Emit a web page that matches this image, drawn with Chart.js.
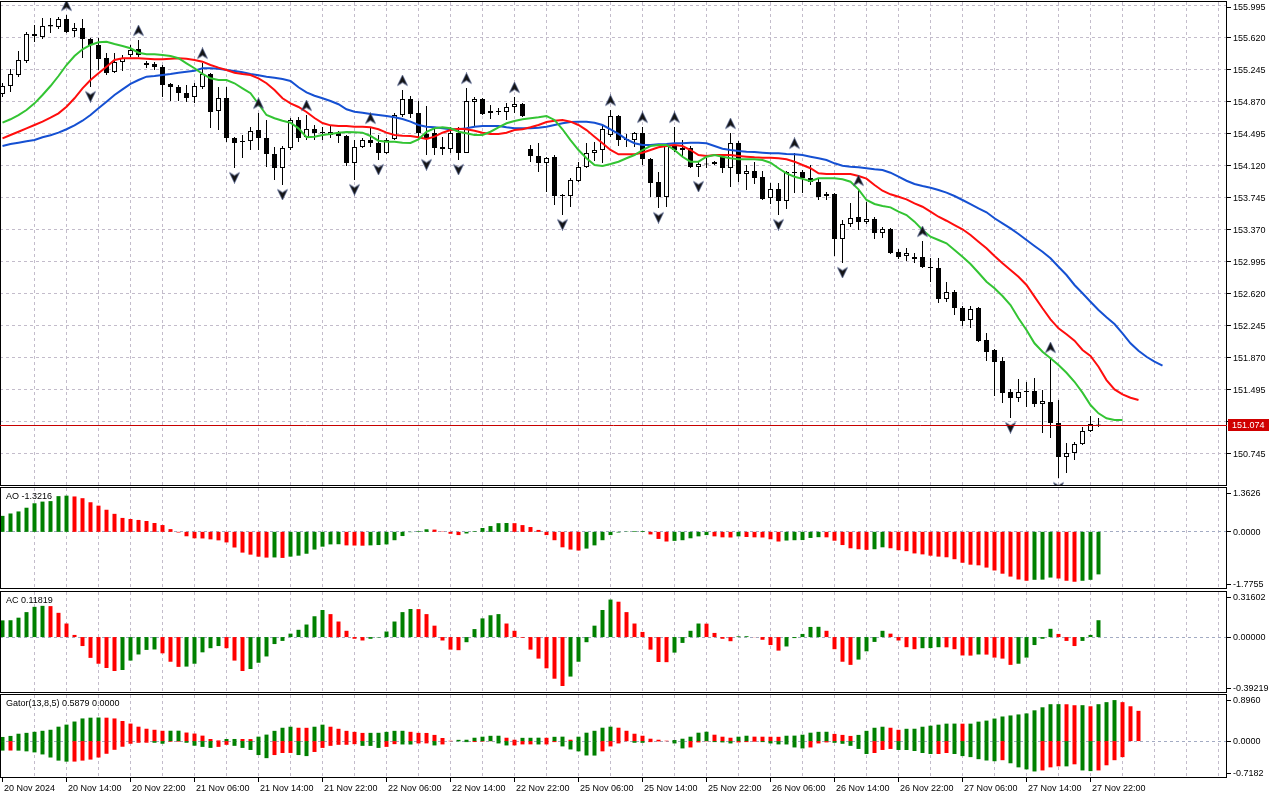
<!DOCTYPE html>
<html>
<head>
<meta charset="utf-8">
<title>USDJPY H1 - Alligator, AO, AC, Gator</title>
<script src="https://cdn.jsdelivr.net/npm/chart.js@4.4.1/dist/chart.umd.min.js"></script>
<style>
  html, body { margin: 0; padding: 0; background: #fff; overflow: hidden; }
  #wrap { position: relative; width: 1280px; height: 800px; }
  #wrap canvas { position: absolute; left: 0; }
</style>
</head>
<body>
<div id="wrap">
  <canvas id="priceChart" width="1280" height="487" style="top:0px"></canvas>
  <canvas id="aoChart" width="1280" height="103" style="top:487px"></canvas>
  <canvas id="acChart" width="1280" height="103" style="top:591px"></canvas>
  <canvas id="gatorChart" width="1280" height="106" style="top:694px"></canvas>
</div>
<script>
// price axis labels (right side of the main window)
const priceTicks = [155.995, 155.620, 155.245, 154.870, 154.495, 154.120, 153.745, 153.370,
  152.995, 152.620, 152.245, 151.870, 151.495, 151.120, 150.745];

// H1 candles, bar 0 = 20 Nov 06:00
const opens = [
  154.960,155.054,155.183,155.347,155.664,155.628,155.769,155.746,155.839,155.699,
  155.734,155.605,155.535,155.382,155.218,155.335,155.417,155.488,155.300,155.312,
  155.277,155.078,155.042,154.972,154.925,155.042,155.195,154.761,154.913,154.445,
  154.409,154.409,154.538,154.445,154.257,154.093,154.327,154.656,154.456,154.550,
  154.509,154.480,154.503,154.468,154.152,154.339,154.421,154.386,154.269,154.433,
  154.714,154.902,154.738,154.492,154.503,154.339,154.316,154.503,154.269,154.867,
  154.902,154.738,154.761,154.749,154.808,154.843,154.316,154.234,154.152,154.222,
  153.777,153.765,153.941,154.105,154.269,154.304,154.480,154.702,154.433,154.421,
  154.503,154.199,153.929,153.753,154.363,154.304,154.327,154.105,154.140,154.140,
  154.222,154.093,154.386,154.023,154.058,153.988,153.741,153.847,153.706,154.046,
  154.046,153.976,153.929,153.788,153.788,153.261,153.437,153.519,153.460,153.495,
  153.331,153.378,153.109,153.062,153.027,153.050,152.933,152.921,152.558,152.640,
  152.452,152.312,152.452,152.077,151.960,151.831,151.468,151.398,151.480,151.480,
  151.327,151.351,151.104,150.706,150.753,150.858,151.011,151.087];
const highs = [
  155.089,155.253,155.464,155.687,155.769,155.851,155.851,155.863,155.886,155.792,
  155.839,155.617,155.617,155.441,155.441,155.417,155.535,155.593,155.347,155.335,
  155.300,155.089,155.066,155.066,155.089,155.324,155.206,155.042,155.042,154.456,
  154.480,154.574,154.738,154.656,154.339,154.351,154.679,154.691,154.714,154.597,
  154.574,154.585,154.527,154.480,154.421,154.445,154.562,154.480,154.445,154.738,
  155.007,154.937,154.878,154.820,154.562,154.456,154.574,154.574,155.031,154.925,
  154.913,154.831,154.796,154.855,154.925,154.855,154.363,154.386,154.222,154.245,
  153.788,153.976,154.163,154.386,154.398,154.597,154.773,154.714,154.492,154.515,
  154.574,154.210,154.046,154.363,154.574,154.421,154.351,154.163,154.210,154.175,
  154.245,154.503,154.409,154.128,154.163,154.058,153.917,153.917,154.058,154.269,
  154.070,154.128,153.976,153.812,153.800,153.484,153.683,153.835,153.695,153.519,
  153.402,153.390,153.144,153.155,153.097,153.237,153.038,153.038,152.757,152.663,
  152.476,152.476,152.464,152.159,151.972,151.878,151.503,151.620,151.585,151.632,
  151.491,151.878,151.374,150.870,150.882,151.058,151.186,151.163];
const lows = [
  154.925,154.984,155.160,155.324,155.570,155.605,155.675,155.722,155.675,155.628,
  155.382,155.042,155.242,155.183,155.206,155.230,155.394,155.394,155.265,155.242,
  154.925,154.878,154.878,154.867,154.855,155.019,154.562,154.538,154.398,154.093,
  154.210,154.304,154.304,154.105,153.952,153.894,154.304,154.398,154.421,154.421,
  154.421,154.445,154.386,154.117,153.952,154.327,154.339,154.187,154.257,154.421,
  154.691,154.679,154.421,154.245,154.245,154.245,154.269,154.187,154.269,154.585,
  154.714,154.667,154.714,154.656,154.738,154.691,154.163,154.046,153.812,153.659,
  153.542,153.636,153.929,154.093,154.175,154.152,154.456,154.351,154.339,154.339,
  154.128,153.753,153.624,153.636,154.281,154.222,154.093,153.988,154.093,154.128,
  154.034,153.870,153.929,153.835,153.906,153.718,153.671,153.542,153.613,153.800,
  153.800,153.894,153.718,153.718,153.062,152.980,153.402,153.366,153.437,153.261,
  153.273,153.085,153.027,153.003,152.980,152.921,152.757,152.511,152.523,152.370,
  152.241,152.218,152.054,151.831,151.421,151.339,151.163,151.351,151.292,151.292,
  150.987,150.929,150.460,150.518,150.671,150.847,150.999,151.058];
const closes = [
  155.054,155.195,155.359,155.664,155.640,155.757,155.751,155.839,155.687,155.734,
  155.605,155.535,155.371,155.206,155.335,155.382,155.476,155.417,155.324,155.277,
  155.066,155.042,154.972,154.913,155.054,155.195,154.749,154.913,154.445,154.386,
  154.398,154.527,154.445,154.257,154.093,154.327,154.656,154.445,154.550,154.503,
  154.503,154.515,154.468,154.152,154.339,154.421,154.386,154.269,154.421,154.714,
  154.902,154.726,154.503,154.445,154.327,154.316,154.503,154.269,154.878,154.902,
  154.726,154.761,154.749,154.808,154.843,154.702,154.234,154.152,154.210,153.765,
  153.765,153.952,154.105,154.269,154.304,154.550,154.702,154.421,154.421,154.503,
  154.199,153.917,153.753,154.351,154.304,154.327,154.105,154.140,154.134,154.163,
  154.093,154.386,154.023,154.058,153.976,153.730,153.847,153.706,154.046,154.034,
  153.976,153.929,153.753,153.765,153.261,153.437,153.507,153.460,153.495,153.331,
  153.378,153.097,153.050,153.097,153.050,152.933,152.921,152.558,152.640,152.452,
  152.300,152.441,152.066,151.937,151.819,151.456,151.398,151.468,151.468,151.327,
  151.362,151.104,150.706,150.753,150.858,151.011,151.093,151.074];

// Alligator lines (already shifted forward 8 / 5 / 3 bars)
const jaw = [
  154.351,154.374,154.390,154.406,154.421,154.453,154.476,154.507,154.547,154.593,
  154.647,154.714,154.793,154.870,154.949,155.015,155.078,155.124,155.163,155.171,
  155.183,155.195,155.210,155.222,155.233,155.262,155.262,155.257,155.242,155.230,
  155.215,155.195,155.179,155.163,155.151,155.136,155.113,155.039,154.980,154.940,
  154.910,154.878,154.840,154.781,154.753,154.741,154.726,154.714,154.702,154.687,
  154.667,154.636,154.597,154.577,154.570,154.558,154.547,154.547,154.558,154.577,
  154.585,154.585,154.585,154.570,154.558,154.558,154.558,154.565,154.577,154.597,
  154.617,154.632,154.636,154.636,154.624,154.597,154.547,154.492,154.429,154.383,
  154.363,154.363,154.371,154.374,154.383,154.383,154.390,154.390,154.383,154.351,
  154.319,154.304,154.292,154.284,154.281,154.272,154.265,154.265,154.257,154.254,
  154.245,154.225,154.207,154.187,154.148,154.120,154.108,154.101,154.090,154.078,
  154.070,154.038,153.991,153.944,153.906,153.882,153.862,153.835,153.804,153.765,
  153.718,153.671,153.621,153.574,153.504,153.445,153.386,153.320,153.249,153.179,
  153.112,153.035,152.936,152.839,152.722,152.625,152.526,152.429,152.343,152.265,
  152.156,152.039,151.952,151.881,151.823,151.776];
const teeth = [
  154.441,154.480,154.518,154.558,154.597,154.636,154.683,154.734,154.811,154.910,
  155.027,155.124,155.203,155.280,155.359,155.379,155.379,155.379,155.374,155.367,
  155.367,155.374,155.379,155.374,155.359,155.339,155.300,155.269,155.242,155.210,
  155.195,155.183,155.144,155.086,155.007,154.910,154.851,154.808,154.749,154.679,
  154.620,154.593,154.585,154.585,154.577,154.577,154.570,154.547,154.507,154.480,
  154.472,154.468,154.453,154.433,154.460,154.507,154.538,154.554,154.547,154.530,
  154.507,154.492,154.492,154.507,154.538,154.547,154.570,154.597,154.632,154.647,
  154.656,154.636,154.597,154.538,154.460,154.383,154.304,154.254,154.254,154.254,
  154.272,154.304,154.336,154.351,154.363,154.351,154.304,154.245,154.234,154.245,
  154.245,154.245,154.234,154.225,154.218,154.214,154.214,154.207,154.195,154.167,
  154.128,154.090,154.031,154.023,154.023,154.023,154.023,154.000,153.968,153.894,
  153.827,153.785,153.757,153.726,153.679,153.639,153.581,153.522,153.475,153.425,
  153.375,153.308,153.229,153.152,153.062,152.976,152.898,152.819,152.722,152.585,
  152.449,152.320,152.214,152.144,152.069,151.960,151.890,151.764,151.608,151.499,
  151.441,151.401,151.374];
const lips = [
  154.624,154.664,154.714,154.773,154.851,154.949,155.054,155.171,155.300,155.406,
  155.484,155.535,155.566,155.573,155.546,155.523,155.496,155.444,155.426,155.426,
  155.417,155.406,155.379,155.320,155.262,155.195,155.144,155.124,155.124,155.086,
  155.027,154.969,154.843,154.714,154.676,154.647,154.624,154.558,154.453,154.460,
  154.480,154.492,154.507,154.515,154.511,154.507,154.468,154.413,154.401,154.401,
  154.390,154.386,154.429,154.518,154.558,154.570,154.558,154.518,154.500,154.480,
  154.480,154.518,154.570,154.617,154.644,154.664,154.676,154.687,154.702,154.656,
  154.547,154.421,154.304,154.207,154.128,154.117,154.140,154.167,154.207,154.245,
  154.304,154.351,154.363,154.363,154.304,154.225,154.167,154.167,154.225,154.245,
  154.225,154.207,154.195,154.195,154.195,154.187,154.155,154.090,154.031,153.991,
  153.966,153.938,153.972,153.972,153.972,153.961,153.932,153.843,153.718,153.671,
  153.648,153.632,153.581,153.542,153.464,153.366,153.288,153.249,153.211,153.132,
  153.053,152.968,152.866,152.760,152.683,152.593,152.487,152.332,152.194,152.039,
  151.940,151.863,151.784,151.694,151.588,151.460,151.315,151.218,151.160,151.140,
  151.140];

// bars carrying a fractal mark
const upFractals = [8, 17, 25, 32, 38, 46, 50, 58, 64, 76, 80, 84, 91, 99, 107, 115, 131];
const downFractals = [11, 29, 35, 44, 47, 53, 57, 70, 82, 87, 97, 105, 126, 132];

const ao = [
  0.497,0.571,0.634,0.750,0.888,0.940,0.955,1.110,1.125,1.100,
  1.046,0.920,0.814,0.687,0.560,0.433,0.400,0.370,0.338,0.275,
  0.211,0.085,-0.020,-0.137,-0.200,-0.205,-0.233,-0.264,-0.328,-0.486,
  -0.645,-0.708,-0.771,-0.800,-0.795,-0.810,-0.770,-0.740,-0.680,-0.550,
  -0.460,-0.390,-0.385,-0.420,-0.425,-0.430,-0.420,-0.410,-0.390,-0.260,
  -0.130,-0.010,0.020,0.080,0.070,0.010,-0.060,-0.100,-0.050,0.020,
  0.120,0.180,0.270,0.275,0.270,0.210,0.150,0.060,-0.100,-0.260,
  -0.480,-0.550,-0.580,-0.520,-0.420,-0.260,-0.100,-0.020,0.010,0.020,
  0.025,-0.080,-0.220,-0.300,-0.280,-0.260,-0.200,-0.140,-0.100,-0.140,
  -0.170,-0.175,-0.140,-0.160,-0.170,-0.175,-0.230,-0.300,-0.270,-0.260,
  -0.255,-0.190,-0.165,-0.170,-0.275,-0.410,-0.510,-0.540,-0.560,-0.540,
  -0.480,-0.510,-0.570,-0.600,-0.670,-0.700,-0.740,-0.770,-0.790,-0.850,
  -0.960,-1.020,-1.040,-1.110,-1.200,-1.300,-1.390,-1.480,-1.520,-1.490,
  -1.485,-1.420,-1.450,-1.520,-1.550,-1.520,-1.490,-1.3216];
const ac = [
  0.117,0.118,0.136,0.175,0.212,0.219,0.217,0.170,0.095,0.015,
  -0.063,-0.146,-0.187,-0.217,-0.238,-0.231,-0.165,-0.122,-0.090,-0.087,
  -0.114,-0.173,-0.209,-0.207,-0.187,-0.107,-0.078,-0.063,-0.078,-0.165,
  -0.238,-0.224,-0.180,-0.136,-0.049,-0.027,0.024,0.051,0.088,0.146,
  0.190,0.161,0.109,0.044,-0.012,-0.024,-0.012,-0.003,0.039,0.109,
  0.175,0.197,0.196,0.161,0.080,-0.024,-0.088,-0.092,-0.036,0.056,
  0.131,0.153,0.161,0.095,0.044,-0.005,-0.088,-0.151,-0.219,-0.292,
  -0.343,-0.277,-0.173,-0.036,0.080,0.190,0.263,0.248,0.175,0.095,
  0.036,-0.088,-0.175,-0.176,-0.109,-0.041,0.044,0.095,0.094,0.029,
  -0.012,-0.029,0.005,0.006,-0.001,-0.019,-0.056,-0.095,-0.066,-0.007,
  0.022,0.071,0.072,0.044,-0.085,-0.173,-0.195,-0.158,-0.100,-0.034,
  0.044,0.024,-0.024,-0.071,-0.085,-0.078,-0.077,-0.071,-0.072,-0.085,
  -0.129,-0.130,-0.122,-0.123,-0.144,-0.151,-0.195,-0.187,-0.144,-0.056,
  -0.012,0.058,0.022,-0.027,-0.063,-0.027,0.015,0.11819];
const gatorUp = [
  0.080,0.100,0.143,0.160,0.180,0.200,0.220,0.280,0.320,0.380,
  0.440,0.455,0.458,0.455,0.440,0.390,0.340,0.280,0.240,0.220,
  0.200,0.201,0.202,0.166,0.146,0.106,0.040,0.013,0.040,0.041,
  0.040,0.039,0.086,0.126,0.199,0.259,0.279,0.259,0.258,0.279,
  0.319,0.279,0.239,0.199,0.179,0.159,0.160,0.161,0.179,0.199,
  0.200,0.180,0.160,0.158,0.120,0.060,0.006,0.024,0.026,0.065,
  0.085,0.102,0.104,0.065,0.026,0.063,0.064,0.066,0.064,0.083,
  0.086,0.026,0.085,0.163,0.200,0.260,0.280,0.260,0.200,0.143,
  0.104,0.046,0.026,0.007,0.020,0.046,0.085,0.163,0.182,0.124,
  0.085,0.065,0.085,0.104,0.086,0.085,0.084,0.083,0.104,0.106,
  0.124,0.163,0.180,0.181,0.139,0.120,0.100,0.120,0.199,0.259,
  0.279,0.259,0.219,0.239,0.240,0.279,0.299,0.319,0.339,0.340,
  0.338,0.339,0.378,0.398,0.438,0.478,0.498,0.518,0.538,0.598,
  0.657,0.717,0.718,0.716,0.697,0.698,0.677,0.717,0.757,0.797,
  0.757,0.677,0.5879];
const gatorDown = [
  -0.185,-0.184,-0.186,-0.200,-0.220,-0.260,-0.320,-0.380,-0.400,-0.399,
  -0.380,-0.360,-0.320,-0.247,-0.170,-0.110,-0.052,-0.033,-0.032,-0.033,
  -0.052,-0.013,-0.012,-0.033,-0.090,-0.113,-0.133,-0.113,-0.073,-0.093,
  -0.133,-0.173,-0.272,-0.332,-0.272,-0.232,-0.231,-0.272,-0.292,-0.212,
  -0.133,-0.093,-0.073,-0.072,-0.060,-0.093,-0.094,-0.133,-0.113,-0.060,
  -0.066,-0.067,-0.046,-0.045,-0.085,-0.065,-0.004,-0.005,-0.020,-0.019,
  -0.010,-0.004,-0.046,-0.085,-0.084,-0.065,-0.064,-0.066,-0.065,-0.020,
  -0.104,-0.163,-0.200,-0.280,-0.282,-0.200,-0.104,-0.046,-0.003,-0.033,
  -0.034,-0.020,-0.007,-0.003,-0.046,-0.143,-0.124,-0.026,-0.007,-0.020,
  -0.026,-0.046,-0.026,-0.020,-0.013,-0.020,-0.046,-0.065,-0.066,-0.124,
  -0.143,-0.124,-0.046,-0.026,-0.034,-0.053,-0.093,-0.153,-0.252,-0.232,
  -0.173,-0.153,-0.173,-0.174,-0.193,-0.232,-0.252,-0.251,-0.232,-0.252,
  -0.292,-0.312,-0.352,-0.378,-0.392,-0.372,-0.432,-0.511,-0.551,-0.591,
  -0.571,-0.511,-0.491,-0.492,-0.452,-0.571,-0.584,-0.571,-0.471,-0.372,
  -0.312];

// indicator windows: labels shown on the right scale
const aoRange = [1.3626, -1.7755];
const acRange = [0.31602, -0.39219];
const gatorRange = [0.8960, -0.7182];

const timeIdx = [0, 8, 16, 24, 32, 40, 48, 56, 64, 72, 80, 88, 96, 104, 112, 120, 128, 136];
const timeText = ['20 Nov 2024', '20 Nov 14:00', '20 Nov 22:00', '21 Nov 06:00', '21 Nov 14:00',
  '21 Nov 22:00', '22 Nov 06:00', '22 Nov 14:00', '22 Nov 22:00', '25 Nov 06:00', '25 Nov 14:00',
  '25 Nov 22:00', '26 Nov 06:00', '26 Nov 14:00', '26 Nov 22:00', '27 Nov 06:00', '27 Nov 14:00',
  '27 Nov 22:00'];

const GREEN = '#008000', RED = '#ff0000';
const GRID = '#c3bccb', ZERO = '#a3abc3';
const X_MIN = -0.3125, X_MAX = 153.0625;
const AXIS_W = 53;
const FONT = '9px "Liberation Sans", Arial, sans-serif';

Chart.defaults.font.family = '"Liberation Sans", Arial, sans-serif';
Chart.defaults.font.size = 9;
Chart.defaults.color = '#000';

const pts = (vals) => vals.map((v, k) => ({x: k, y: v}));

function trendColors(vals, key) {
  const out = [];
  for (let i = 0; i < vals.length; i++) {
    if (i === 0) { out.push(GREEN); continue; }
    const a = key(vals[i]), b = key(vals[i - 1]);
    out.push(a > b ? GREEN : a < b ? RED : out[i - 1]);
  }
  return out;
}

function arrowIcon(up) {
  const c = document.createElement('canvas');
  c.width = 13; c.height = 31;
  const g = c.getContext('2d');
  g.translate(6.5, up ? 6 : 25);
  if (!up) g.scale(1, -1);
  g.beginPath();
  g.moveTo(0, -5.5); g.lineTo(5, 5); g.lineTo(0, 2); g.lineTo(-5, 5);
  g.closePath();
  g.fillStyle = '#141414';
  g.fill();
  g.strokeStyle = '#4a5a8a';
  g.lineWidth = 0.7;
  g.stroke();
  return c;
}

function makeGrid(levels, color) {
  return {
    id: 'mtGrid',
    beforeDatasetsDraw(chart) {
      const {ctx, chartArea: a, scales: {x, y}} = chart;
      ctx.save();
      ctx.lineWidth = 1;
      ctx.setLineDash([3, 3]);
      ctx.strokeStyle = GRID;
      ctx.beginPath();
      for (let k = 4; k < X_MAX; k += 4) {
        const px = Math.floor(x.getPixelForValue(k)) + 0.5;
        ctx.moveTo(px, a.top);
        ctx.lineTo(px, a.bottom);
      }
      ctx.stroke();
      ctx.strokeStyle = color;
      ctx.beginPath();
      levels.forEach(v => {
        const py = Math.floor(y.getPixelForValue(v)) + 0.5;
        ctx.moveTo(a.left, py);
        ctx.lineTo(a.right, py);
      });
      ctx.stroke();
      ctx.restore();
    }
  };
}

const frame = {
  id: 'mtFrame',
  afterDraw(chart) {
    const {ctx, chartArea: a} = chart;
    ctx.save();
    ctx.setLineDash([]);
    ctx.strokeStyle = '#000';
    ctx.lineWidth = 1;
    ctx.strokeRect(a.left + 0.5, a.top - 0.5, a.right - a.left - 1, a.bottom - a.top);
    ctx.restore();
  }
};

// right-hand scale labels, kept inside the window like the terminal does
function makeSideAxis(title, values, digits) {
  return {
    id: 'sideAxis',
    afterDraw(chart) {
      const {ctx, chartArea: a, scales: {y}} = chart;
      ctx.save();
      ctx.font = FONT;
      ctx.fillStyle = '#000';
      ctx.textBaseline = 'middle';
      ctx.textAlign = 'left';
      values.forEach(v => {
        let py = y.getPixelForValue(v);
        py = Math.min(Math.max(py, a.top + 5), a.bottom - 5);
        ctx.fillRect(a.right, Math.floor(py), 4, 1);
        ctx.fillText(v.toFixed(digits), a.right + 6, py + 0.5);
      });
      if (title) ctx.fillText(title, a.left + 6, a.top + 9);
      ctx.restore();
    }
  };
}

// bid line + red price box
const bidLine = {
  id: 'bidLine',
  afterDraw(chart) {
    const {ctx, chartArea: a, scales: {y}} = chart;
    const bid = closes[closes.length - 1];
    const py = Math.floor(y.getPixelForValue(bid)) + 0.5;
    ctx.save();
    ctx.strokeStyle = '#c80000';
    ctx.lineWidth = 1;
    ctx.beginPath();
    ctx.moveTo(a.left, py);
    ctx.lineTo(a.right, py);
    ctx.stroke();
    ctx.fillStyle = '#d00000';
    ctx.fillRect(a.right + 1, py - 6.5, 41, 12);
    ctx.fillStyle = '#fff';
    ctx.font = FONT;
    ctx.textBaseline = 'middle';
    ctx.fillText(bid.toFixed(3), a.right + 5, py);
    ctx.restore();
  }
};

const timeAxis = {
  id: 'timeAxis',
  afterDraw(chart) {
    const {ctx, chartArea: a, scales: {x}} = chart;
    ctx.save();
    ctx.font = FONT;
    ctx.fillStyle = '#000';
    ctx.textBaseline = 'middle';
    ctx.textAlign = 'left';
    timeIdx.forEach((k, i) => {
      const px = Math.floor(x.getPixelForValue(k));
      ctx.fillRect(px, a.bottom, 1, 4);
      ctx.fillText(timeText[i], px + 2, a.bottom + 11);
    });
    ctx.restore();
  }
};

function baseOptions(padding, yMin, yMax) {
  return {
    responsive: false,
    animation: false,
    events: [],
    layout: {padding, autoPadding: false},
    plugins: {legend: {display: false}, tooltip: {enabled: false}},
    scales: {
      x: {type: 'linear', min: X_MIN, max: X_MAX, offset: false, display: false},
      y: {type: 'linear', min: yMin, max: yMax, display: false}
    }
  };
}

// ---- main window: candles, alligator, fractals
const idx = opens.map((_, k) => k);
new Chart(document.getElementById('priceChart'), {
  type: 'bar',
  data: {
    datasets: [
      {
        type: 'line', data: upFractals.map(k => ({x: k, y: highs[k]})),
        showLine: false, pointStyle: arrowIcon(true), pointRadius: 5, order: 0
      },
      {
        type: 'line', data: downFractals.map(k => ({x: k, y: lows[k]})),
        showLine: false, pointStyle: arrowIcon(false), pointRadius: 5, order: 0
      },
      {type: 'line', data: pts(lips), borderColor: '#33c433', borderWidth: 2, pointRadius: 0, order: 1},
      {type: 'line', data: pts(teeth), borderColor: '#ff0d0d', borderWidth: 2, pointRadius: 0, order: 1},
      {type: 'line', data: pts(jaw), borderColor: '#1550d2', borderWidth: 2, pointRadius: 0, order: 1},
      {
        data: idx.map(k => ({x: k, y: [opens[k], closes[k]]})),
        backgroundColor: idx.map(k => closes[k] >= opens[k] ? '#fff' : '#000'),
        borderColor: '#000', borderWidth: 1, borderSkipped: false,
        barThickness: 5, minBarLength: 1, grouped: false, inflateAmount: 0, order: 2
      },
      {
        data: idx.map(k => ({x: k, y: [lows[k], highs[k]]})),
        backgroundColor: '#000', borderWidth: 0,
        barThickness: 1, grouped: false, inflateAmount: 0, order: 3
      }
    ]
  },
  options: baseOptions({top: 2, bottom: 1, left: 0, right: AXIS_W}, 150.3665, 156.0384),
  plugins: [makeGrid(priceTicks, GRID), frame, makeSideAxis('', priceTicks, 3), bidLine]
});

// ---- indicator windows
function histogram(id, series, range, digits, title, padBottom, extra) {
  const sets = series.map(s => ({
    data: pts(s),
    backgroundColor: trendColors(s, v => title.startsWith('Gator') ? Math.abs(v) : v),
    borderWidth: 0, barThickness: 4, grouped: false, inflateAmount: 0
  }));
  new Chart(document.getElementById(id), {
    type: 'bar',
    data: {datasets: sets},
    options: baseOptions({top: 1, bottom: padBottom, left: 0, right: AXIS_W}, range[1], range[0]),
    plugins: [makeGrid([0], ZERO), frame, makeSideAxis(title, [range[0], 0, range[1]], digits)].concat(extra || [])
  });
}

histogram('aoChart', [ao], aoRange, 4, 'AO ' + ao[ao.length - 1].toFixed(4), 1);
histogram('acChart', [ac], acRange, 5, 'AC ' + ac[ac.length - 1].toFixed(5), 1);
histogram('gatorChart', [gatorUp, gatorDown], gatorRange, 4,
  'Gator(13,8,5) ' + gatorUp[gatorUp.length - 1].toFixed(4) + ' ' + (0).toFixed(4), 22, [timeAxis]);
</script>
</body>
</html>
